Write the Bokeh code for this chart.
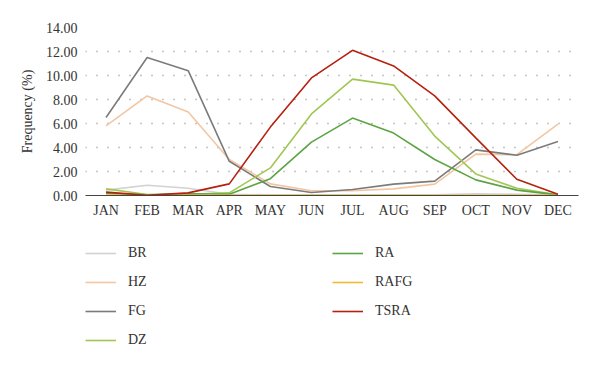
from bokeh.plotting import figure
from bokeh.models import Legend, LegendItem, FactorRange, Range1d, FixedTicker, NumeralTickFormatter
from bokeh.layouts import column
from bokeh.embed import file_html
from bokeh.resources import INLINE

months = ["JAN", "FEB", "MAR", "APR", "MAY", "JUN", "JUL", "AUG", "SEP", "OCT", "NOV", "DEC"]

br   = [0.45, 0.85, 0.60, 0.10, 0.05, 0.05, 0.05, 0.05, 0.05, 0.15, 0.10, 0.05]
hz   = [5.80, 8.30, 6.95, 3.00, 0.97, 0.40, 0.40, 0.55, 0.95, 3.45, 3.40, 5.95]
fg   = [6.50, 11.50, 10.40, 2.85, 0.75, 0.25, 0.50, 0.95, 1.20, 3.80, 3.35, 4.50]
dz   = [0.55, 0.08, 0.10, 0.22, 2.30, 6.80, 9.70, 9.20, 4.95, 1.80, 0.60, 0.05]
ra   = [0.18, 0.05, 0.15, 0.10, 1.40, 4.45, 6.45, 5.20, 3.00, 1.30, 0.45, 0.05]
rafg = [0.02, 0.02, 0.02, 0.02, 0.02, 0.02, 0.02, 0.02, 0.02, 0.02, 0.02, 0.02]
tsra = [0.28, 0.02, 0.22, 0.97, 5.70, 9.80, 12.10, 10.80, 8.30, 4.80, 1.35, 0.10]

series = [
    ("BR", br, "#d2d2d2"),
    ("HZ", hz, "#f3c6a2"),
    ("FG", fg, "#7b7b7b"),
    ("DZ", dz, "#a2c653"),
    ("RA", ra, "#5ca443"),
    ("RAFG", rafg, "#f0bb33"),
    ("TSRA", tsra, "#b5200f"),
]
y_ticks = [0, 2, 4, 6, 8, 10, 12, 14]

FONT = "Liberation Serif"
W = 596

# ---- main chart ----
p = figure(width=W, height=228, x_range=FactorRange(*months), y_range=Range1d(0, 14),
           output_backend="svg", toolbar_location=None,
           min_border_left=85, min_border_right=18, min_border_top=27, min_border_bottom=33)
p.outline_line_color = None

p.xgrid.grid_line_color = None
p.ygrid.grid_line_color = "#8a8a8a"
p.ygrid.grid_line_dash = "1 10"
p.ygrid.grid_line_width = 1.5

p.yaxis.ticker = FixedTicker(ticks=y_ticks)
p.yaxis.formatter = NumeralTickFormatter(format="0.00")
p.yaxis.axis_line_color = None
p.yaxis.major_label_standoff = 8
p.yaxis.axis_label = "Frequency (%)"
p.yaxis.axis_label_standoff = 8
p.yaxis.axis_label_text_font_style = "normal"

p.xaxis.axis_line_color = "#444444"
p.xaxis.axis_line_width = 1.2
p.xaxis.major_label_standoff = 7

for ax in (p.xaxis, p.yaxis):
    ax.major_tick_line_color = None
    ax.minor_tick_line_color = None
    ax.major_tick_out = 0
    ax.major_tick_in = 0
    ax.minor_tick_out = 0
    ax.minor_tick_in = 0
    ax.major_label_text_font = FONT
    ax.major_label_text_font_size = "14px"
    ax.major_label_text_color = "#333333"
    ax.axis_label_text_font = FONT
    ax.axis_label_text_font_size = "14px"
    ax.axis_label_text_color = "#333333"

for name, vals, col in series:
    p.line(months, vals, line_color=col, line_width=1.6)

# ---- legend panel (frame is aligned with the chart's frame by the column layout) ----
q = figure(width=W, height=134, x_range=FactorRange(*months), y_range=Range1d(0, 14),
           output_backend="svg", toolbar_location=None,
           x_axis_type=None, y_axis_type=None,
           min_border_left=0, min_border_right=0, min_border_top=0, min_border_bottom=0)
q.outline_line_color = None
q.xgrid.grid_line_color = None
q.ygrid.grid_line_color = None

items = []
for name, vals, col in series:
    r = q.line(months, vals, line_color=col, line_width=1.6, visible=False)
    items.append(LegendItem(label=name, renderers=[r]))

def make_legend(its, loc):
    lg = Legend(items=its, location=loc, orientation="vertical")
    lg.border_line_color = None
    lg.background_fill_alpha = 0
    lg.padding = 0
    lg.margin = 0
    lg.spacing = 9
    lg.glyph_width = 31
    lg.glyph_height = 20
    lg.label_height = 20
    lg.label_standoff = 12
    lg.label_text_font = FONT
    lg.label_text_font_size = "14px"
    lg.label_text_color = "#333333"
    lg.inactive_fill_alpha = 0
    return lg

q.add_layout(make_legend(items[:4], (0, 12)), "center")
q.add_layout(make_legend(items[4:], (247, 41)), "center")

layout = column(p, q, spacing=0)
open("out.html", "w").write(file_html(layout, INLINE))
